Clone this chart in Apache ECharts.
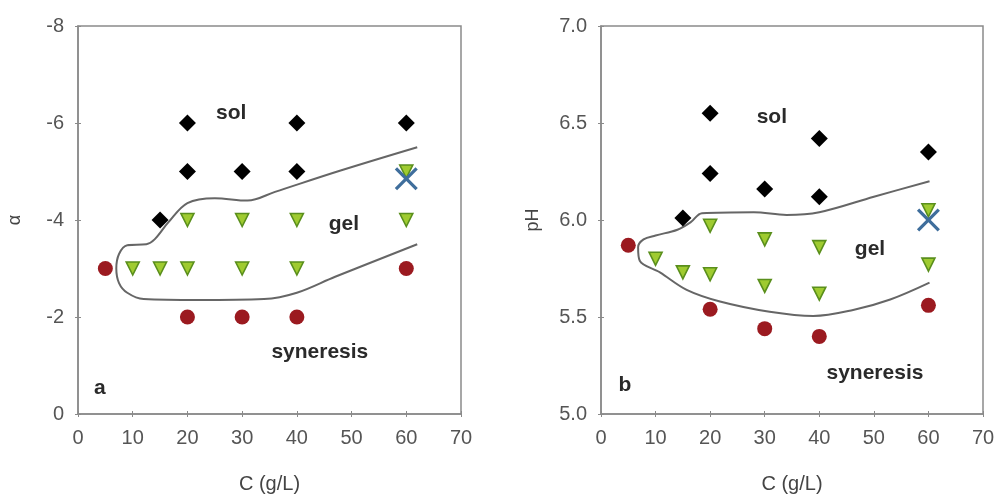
<!DOCTYPE html>
<html><head><meta charset="utf-8">
<script src="https://cdn.jsdelivr.net/npm/echarts@6/dist/echarts.min.js"></script>
<style>html,body{margin:0;padding:0;background:#fff}#c{width:1001px;height:499px}</style>
</head><body><div id="c"></div>
<script>
// Panel a (alpha)
const aSol = [[15,-4],[20,-5],[20,-6],[30,-5],[40,-5],[40,-6],[60,-6]];
const aGel = [[10,-3],[15,-3],[20,-3],[30,-3],[40,-3],[20,-4],[30,-4],[40,-4],[60,-4],[60,-5]];
const aSyn = [[5,-3],[20,-2],[30,-2],[40,-2],[60,-3]];
const aCross = [[60,-4.85]];
const aCurve = [[62,-5.5],[48,-5.02],[36,-4.58],[31,-4.4],[25,-4.45],[20,-4.35],[16.5,-3.95],[14,-3.6],[12.5,-3.5],[9,-3.48],[7.5,-3.3],[7,-3.0],[7.5,-2.7],[9,-2.5],[12,-2.37],[22,-2.35],[34,-2.37],[40,-2.5],[47,-2.83],[62,-3.5]];
const aLabels = [[28,-6.2,'sol'],[48.6,-3.92,'gel'],[44.2,-1.28,'syneresis'],[4,-0.54,'a']];
// Panel b (pH)
const bSol = [[15,6.01],[20,6.24],[20,6.55],[30,6.16],[40,6.12],[40,6.42],[60,6.35]];
const bGel = [[10,5.80],[15,5.73],[20,5.72],[20,5.97],[30,5.66],[30,5.90],[40,5.62],[40,5.86],[60,5.77],[60,6.05]];
const bSyn = [[5,5.87],[20,5.54],[30,5.44],[40,5.40],[60,5.56]];
const bCross = [[60,6.0]];
const bCurve = [[60.2,6.20],[50,6.12],[40,6.04],[34,6.026],[28,6.04],[18.5,6.035],[16.5,5.99],[14,5.95],[10,5.92],[7.8,5.90],[6.8,5.86],[7.1,5.79],[10.8,5.73],[15.7,5.64],[21.8,5.58],[30.9,5.527],[38.9,5.505],[46.2,5.536],[53,5.59],[60.2,5.677]];
const bLabels = [[31.3,6.53,'sol'],[49.3,5.85,'gel'],[50.2,5.21,'syneresis'],[4.4,5.15,'b']];

const font = 'Liberation Sans, Arial, sans-serif';
const axisCol = '#8a8a8a';
const crossPath = 'path://M0,2 L2,0 L10,8 L18,0 L20,2 L12,10 L20,18 L18,20 L10,12 L2,20 L0,18 L8,10 Z';

function xAxisDef(gi){
  return {type:'value',gridIndex:gi,min:0,max:70,interval:10,name:'C (g/L)',nameLocation:'middle',nameGap:60,
    nameTextStyle:{fontFamily:font,fontSize:20,color:'#444'},
    axisLine:{lineStyle:{color:axisCol,width:1.5}},axisTick:{show:true,length:3,lineStyle:{color:axisCol}},
    axisLabel:{fontFamily:font,fontSize:20,color:'#555',margin:14},splitLine:{show:false}};
}
function xInner(gi){
  return {type:'value',gridIndex:gi,min:0,max:70,interval:10,position:'bottom',
    axisLine:{show:false},axisTick:{show:true,inside:true,length:3,lineStyle:{color:axisCol}},
    axisLabel:{show:false},splitLine:{show:false}};
}
function yInner(gi,min,max,iv,inv){
  return {type:'value',gridIndex:gi,min:min,max:max,interval:iv,inverse:inv,position:'left',
    axisLine:{show:false},axisTick:{show:true,inside:true,length:3,lineStyle:{color:axisCol}},
    axisLabel:{show:false},splitLine:{show:false}};
}
function series(gi, sol, gel, syn, cross, curve, labels){
  return [
    {type:'line',xAxisIndex:gi,yAxisIndex:gi,data:curve,smooth:0.35,showSymbol:false,lineStyle:{color:'#666',width:2},z:1},
    {type:'scatter',xAxisIndex:gi,yAxisIndex:gi,data:sol,symbol:'diamond',symbolSize:17,itemStyle:{color:'#000',opacity:1},z:3},
    {type:'scatter',xAxisIndex:gi,yAxisIndex:gi,data:gel,symbol:'triangle',symbolRotate:180,symbolSize:13,itemStyle:{color:'#9fcb30',borderColor:'#5a8f1c',borderWidth:1.6,opacity:1},z:3},
    {type:'scatter',xAxisIndex:gi,yAxisIndex:gi,data:syn,symbol:'circle',symbolSize:15,itemStyle:{color:'#9b1a20',opacity:1},z:3},
    {type:'scatter',xAxisIndex:gi,yAxisIndex:gi,data:cross,symbol:crossPath,symbolSize:23,itemStyle:{color:'#3f6e9c',opacity:1},z:4},
    {type:'scatter',xAxisIndex:gi,yAxisIndex:gi,data:labels.map(l=>({value:[l[0],l[1]],name:l[2]})),symbolSize:0,
      itemStyle:{opacity:1},
      label:{show:true,position:'inside',formatter:p=>p.name,fontFamily:font,fontSize:21,fontWeight:'bold',color:'#2a2a2a'},z:5}
  ];
}
const chart = echarts.init(document.getElementById('c'));
chart.setOption({
  animation:false,
  grid:[
    {left:78,right:540,top:26,bottom:85,show:true,borderColor:axisCol,borderWidth:1.5,backgroundColor:'transparent'},
    {left:601,right:18,top:26,bottom:85,show:true,borderColor:axisCol,borderWidth:1.5,backgroundColor:'transparent'}
  ],
  xAxis:[xAxisDef(0),xAxisDef(1),xInner(0),xInner(1)],
  yAxis:[
    {type:'value',gridIndex:0,min:-8,max:0,interval:2,inverse:true,name:'α',nameLocation:'middle',nameGap:54,
     nameTextStyle:{fontFamily:font,fontSize:18,color:'#444'},
     axisLine:{show:true,lineStyle:{color:axisCol,width:1.5}},axisTick:{show:true,length:3,lineStyle:{color:axisCol}},
     axisLabel:{fontFamily:font,fontSize:20,color:'#555',margin:14},splitLine:{show:false}},
    {type:'value',gridIndex:1,min:5,max:7,interval:0.5,name:'pH',nameLocation:'middle',nameGap:59,
     nameTextStyle:{fontFamily:font,fontSize:18,color:'#444'},
     axisLine:{show:true,lineStyle:{color:axisCol,width:1.5}},axisTick:{show:true,length:3,lineStyle:{color:axisCol}},
     axisLabel:{fontFamily:font,fontSize:20,color:'#555',margin:14,formatter:v=>v.toFixed(1)},splitLine:{show:false}},
    yInner(0,-8,0,2,true),
    yInner(1,5,7,0.5,false)
  ],
  series:[...series(0,aSol,aGel,aSyn,aCross,aCurve,aLabels),...series(1,bSol,bGel,bSyn,bCross,bCurve,bLabels)]
});
</script></body></html>
